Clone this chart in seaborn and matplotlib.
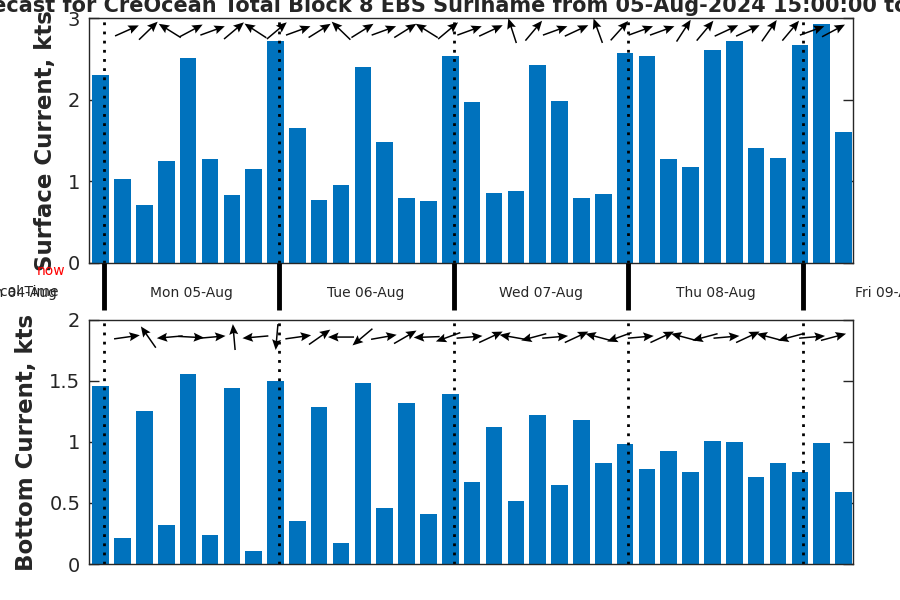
import numpy as np
import matplotlib
matplotlib.use('Agg')
import matplotlib.pyplot as plt
import seaborn as sns

# 3-hourly forecast steps, hours after the first bar
hours = np.arange(0, 105, 3)

# current speed, kts
surface_kts = [2.31, 1.03, 0.71, 1.25, 2.52, 1.27, 0.83, 1.15,
               2.72, 1.65, 0.77, 0.95, 2.40, 1.48, 0.79, 0.76,
               2.54, 1.97, 0.85, 0.88, 2.43, 1.99, 0.79, 0.84,
               2.57, 2.54, 1.27, 1.17, 2.61, 2.72, 1.41, 1.28,
               2.68, 2.93, 1.61]
bottom_kts = [1.46, 0.21, 1.25, 0.32, 1.56, 0.24, 1.44, 0.11,
              1.50, 0.35, 1.29, 0.17, 1.48, 0.46, 1.32, 0.41,
              1.39, 0.67, 1.12, 0.52, 1.22, 0.65, 1.18, 0.83,
              0.98, 0.78, 0.93, 0.75, 1.01, 1.00, 0.71, 0.83,
              0.75, 0.99, 0.59]

# arrow directions, degrees counter-clockwise from east
surface_dir = [24, 44, 148, 28, 20, 40, 147, 40, 20, 32, 136, 32,
               20, 32, 148, 40, 20, 25, 108, 50, 20, 25, 110, 48,
               20, 20, 57, 50, 25, 25, 55, 50, 20, 28]
bottom_dir = [8, 125, 185, -3, 5, 95, 185, -95, 8, 35, 180, 220,
              10, 30, 182, 200, 5, 25, 170, 195, 5, 25, 165, 200,
              5, 25, 165, 195, 5, 25, 165, 195, 5, 15]

day_labels = ['Sun 04-Aug', 'Mon 05-Aug', 'Tue 06-Aug', 'Wed 07-Aug',
              'Thu 08-Aug', 'Fri 09-Aug']
day_starts = [-23.55, 0.45, 24.45, 48.45, 72.45, 96.45]

surface_ticks = [0, 1, 2, 3]
bottom_ticks = [0, 0.5, 1, 1.5, 2]
bottom_tick_labels = ['0', '0.5', '1', '1.5', '2']

title = ('Forecast for CreOcean Total Block 8 EBS Suriname from '
         '05-Aug-2024 15:00:00 to 09-Aug-2024 15:00:00')

bar_color = '#0072BD'
dark = '#262626'
xlim = (-1.57, 103.3)

sns.set_style('white')
plt.rcParams['font.family'] = ['DejaVu Sans']

fig = plt.figure(figsize=(9, 6), dpi=100)
ax1 = fig.add_axes([0.0992, 0.5625, 0.8486, 0.4067])
ax2 = fig.add_axes([0.0992, 0.06, 0.8486, 0.4067])
axm = fig.add_axes([0.0992, 0.4667, 0.8486, 0.0958])

arrow_hours = 3.6 + 2.94 * np.arange(len(surface_dir))


def panel(ax, vals, dirs, arrow_y, ticks, labels, ylab):
    sns.barplot(x=hours, y=vals, native_scale=True, width=0.76,
                color=bar_color, saturation=1, errorbar=None,
                linewidth=0, ax=ax)
    for d in day_starts[1:]:
        ax.axvline(d, color='k', lw=2, ls=(0, (1, 2.3)))
    th = np.deg2rad(dirs)
    ax.quiver(arrow_hours, np.full(len(dirs), arrow_y),
              26 * np.cos(th), 26 * np.sin(th),
              angles='uv', pivot='middle', units='dots',
              scale_units='dots', scale=1, width=1.5,
              headwidth=6, headlength=7, headaxislength=6,
              color='k', zorder=5)
    ax.set_xlim(xlim)
    ax.set_ylim(ticks[0], ticks[-1])
    ax.set_xticks([])
    ax.set_yticks(ticks)
    ax.set_yticklabels(labels)
    ax.tick_params(axis='y', direction='in', length=7, width=1,
                   labelsize=14, labelcolor=dark, color=dark,
                   right=True, left=True, pad=6.5)
    for s in ax.spines.values():
        s.set_visible(True)
        s.set_color(dark)
        s.set_linewidth(1)
    ax.set_xlabel('')
    ax.set_ylabel(ylab, fontsize=16.5, fontweight='bold', labelpad=8)


panel(ax1, surface_kts, surface_dir, 2.85, surface_ticks,
      [str(t) for t in surface_ticks], 'Surface Current, kts')
panel(ax2, bottom_kts, bottom_dir, 1.86, bottom_ticks,
      bottom_tick_labels, 'Bottom Current, kts')

# day band between the two panels
axm.set_xlim(xlim)
axm.set_ylim(0, 1)
axm.axis('off')
for d, lab in zip(day_starts, day_labels):
    if xlim[0] < d < xlim[1]:
        axm.vlines(d, 0.17, 1.0, color='k', lw=3.5)
    axm.text(d + 12, 0.466, lab, ha='center', va='center', fontsize=10,
             clip_on=False)
fig.text(58 / 900, 1 - 292 / 600, 'Local Time', ha='right', va='center',
         fontsize=10)
fig.text(51 / 900, 1 - 271 / 600, 'now', color='red', ha='center',
         va='center', fontsize=10)

fig.text(-46 / 900, 1 - 12 / 600, title, ha='left', va='baseline',
         fontsize=15, fontweight='bold')

fig.savefig('out.png', dpi=100)
